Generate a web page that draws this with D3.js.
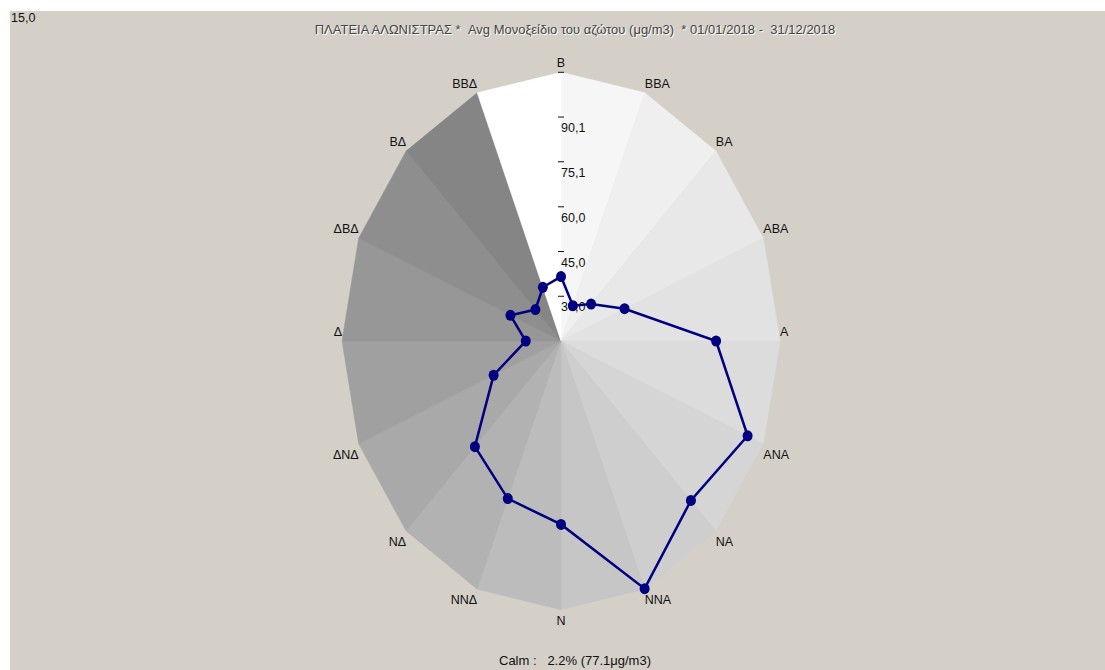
<!DOCTYPE html>
<html>
<head>
<meta charset="utf-8">
<script src="https://cdn.jsdelivr.net/npm/d3@7"></script>
<style>
  body { margin: 0; background: #ffffff; }
  text { font-family: "Liberation Sans", Arial, sans-serif; white-space: pre; }
</style>
</head>
<body>
<div id="chart"></div>
<script>
var width = 1105;
var height = 670;
const PANEL_COLOR = "#d4d0c8";
const LINE_COLOR = "#000080";

// wind directions, clockwise from north
var directions = ["Β", "ΒΒΑ", "ΒΑ", "ΑΒΑ", "Α", "ΑΝΑ", "ΝΑ", "ΝΝΑ",
                  "Ν", "ΝΝΔ", "ΝΔ", "ΔΝΔ", "Δ", "ΔΒΔ", "ΒΔ", "ΒΒΔ"];
// average NO2 per direction (μg/m3)
var values = [36.6, 27.8, 32.5, 43.3, 78.8, 98.1, 90.6, 104.9,
              76.5, 72.2, 65.1, 45.0, 29.5, 37.5, 29.9, 34.5];
// radial scale
var scaleMin = 15.0;
var scaleMax = 105.1;
var tickValues = [30.0, 45.0, 60.0, 75.1, 90.1, 105.1];
var tickLabels = ["30,0", "45,0", "60,0", "75,1", "90,1", ""];

var titleText = "ΠΛΑΤΕΙΑ ΑΛΩΝΙΣΤΡΑΣ *  Avg Μονοξείδιο του αζώτου (μg/m3)  * 01/01/2018 -  31/12/2018";
var calmText = "Calm :   2.2% (77.1μg/m3)";
var minLabel = "15,0";

// shade of each sector, starting at Β -> ΒΒΑ
var sectorFills = ["#f6f6f6", "#efefef", "#e8e8e8", "#e2e2e2", "#dcdcdc", "#d5d5d5",
                   "#cecece", "#c6c6c6", "#bcbcbc", "#b2b2b2", "#a9a9a9", "#a0a0a0",
                   "#979797", "#8e8e8e", "#858585", "#ffffff"];

var cx = 561, cy = 341;
var rx = 219, ry = 268.7;

var svg = d3
  .select("#chart")
  .append("svg")
  .attr("width", width)
  .attr("height", height);

// grey panel
svg.append("rect")
  .attr("x", 10)
  .attr("y", 11)
  .attr("width", width - 10)
  .attr("height", height - 11)
  .attr("fill", PANEL_COLOR);

var r = d3.scaleLinear().domain([scaleMin, scaleMax]).range([0, 1]);
var angle = d3.scaleLinear().domain([0, directions.length]).range([0, 2 * Math.PI]);

function pt(i, v) {
  var a = angle(i);
  return [cx + r(v) * rx * Math.sin(a), cy - r(v) * ry * Math.cos(a)];
}

// background sectors
var sectors = svg.append("g").attr("class", "sectors");
sectors.selectAll("path")
  .data(sectorFills)
  .enter().append("path")
  .attr("d", function(d, i) {
    var p0 = pt(i, scaleMax), p1 = pt(i + 1, scaleMax);
    return "M" + cx + "," + cy + "L" + p0 + "L" + p1 + "Z";
  })
  .attr("fill", function(d) { return d; })
  .attr("stroke", function(d) { return d; })
  .attr("stroke-width", 0.5);

// direction labels
svg.append("g")
  .selectAll("text")
  .data(directions)
  .enter().append("text")
  .attr("x", function(d, i) { return pt(i, scaleMax)[0]; })
  .attr("y", function(d, i) {
    var p = pt(i, scaleMax);
    return Math.cos(angle(i)) > -0.01 ? p[1] - 5 : p[1] + 15;
  })
  .attr("text-anchor", function(d, i) {
    var s = Math.sin(angle(i));
    return s > 0.01 ? "start" : (s < -0.01 ? "end" : "middle");
  })
  .attr("font-size", 12.5)
  .attr("fill", "#111")
  .text(function(d) { return d; });

// radial ticks on the north axis
var ticks = svg.append("g").attr("class", "ticks");
ticks.selectAll("line")
  .data(tickValues)
  .enter().append("line")
  .attr("x1", cx - 3)
  .attr("x2", cx + 3)
  .attr("y1", function(d) { return cy - r(d) * ry; })
  .attr("y2", function(d) { return cy - r(d) * ry; })
  .attr("stroke", "#111")
  .attr("stroke-width", 1);
ticks.selectAll("text")
  .data(tickValues)
  .enter().append("text")
  .attr("x", cx)
  .attr("y", function(d) { return cy - r(d) * ry + 15; })
  .attr("font-size", 12.5)
  .attr("fill", "#111")
  .text(function(d, i) { return tickLabels[i]; });

// data line
var line = d3.line()
  .x(function(d, i) { return pt(i, d)[0]; })
  .y(function(d, i) { return pt(i, d)[1]; })
  .curve(d3.curveLinearClosed);

svg.append("path")
  .datum(values)
  .attr("d", line)
  .attr("fill", "none")
  .attr("stroke", LINE_COLOR)
  .attr("stroke-width", 2.5);

svg.append("g")
  .selectAll("ellipse")
  .data(values)
  .enter().append("ellipse")
  .attr("cx", function(d, i) { return pt(i, d)[0]; })
  .attr("cy", function(d, i) { return pt(i, d)[1]; })
  .attr("rx", 5)
  .attr("ry", 5.5)
  .attr("fill", LINE_COLOR);

// title (embossed look)
svg.append("text")
  .attr("x", 576).attr("y", 35)
  .attr("text-anchor", "middle")
  .attr("font-size", 13)
  .attr("fill", "#ffffff")
  .text(titleText);
svg.append("text")
  .attr("x", 575).attr("y", 34)
  .attr("text-anchor", "middle")
  .attr("font-size", 13)
  .attr("fill", "#444")
  .text(titleText);

svg.append("text")
  .attr("x", 11).attr("y", 22)
  .attr("font-size", 12.5)
  .attr("fill", "#111")
  .text(minLabel);

svg.append("text")
  .attr("x", 575).attr("y", 665)
  .attr("text-anchor", "middle")
  .attr("font-size", 13)
  .attr("fill", "#111")
  .text(calmText);
</script>
</body>
</html>
